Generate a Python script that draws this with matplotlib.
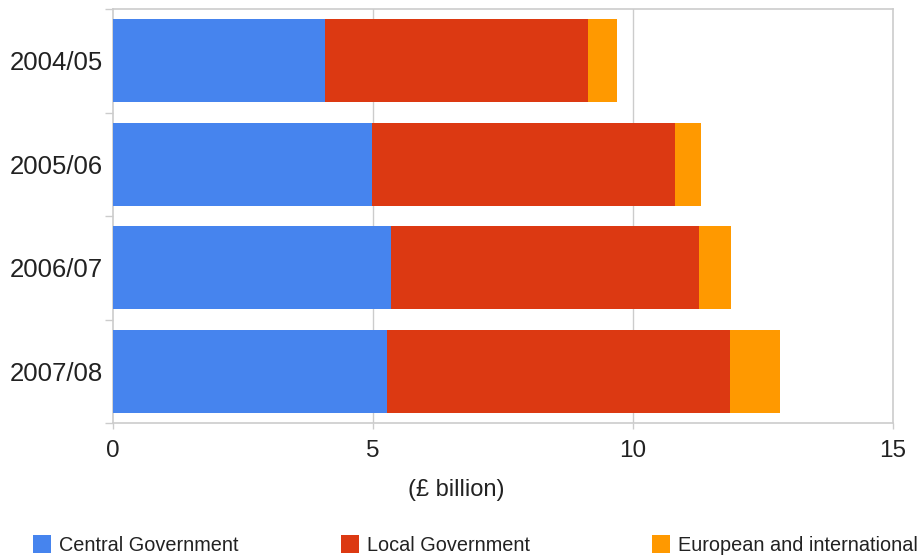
import matplotlib.pyplot as plt
import numpy as np

plt.rcParams['font.family'] = ['Liberation Sans', 'DejaVu Sans']

# data (£ billion)
years = ["2004/05", "2005/06", "2006/07", "2007/08"]
central = [4.08, 4.98, 5.34, 5.27]
local = [5.06, 5.83, 5.93, 6.60]
european = [0.56, 0.50, 0.62, 0.95]
x_ticks = [0, 5, 10, 15]

BLUE = '#4684EE'
RED = '#DC3912'
ORANGE = '#FF9900'
GREY = '#CCCCCC'
TEXT = '#222222'

fig = plt.figure(figsize=(9.19, 5.57), dpi=100)
ax = fig.add_axes([113 / 919, 1 - 423 / 557, 780 / 919, 414 / 557])

y = np.arange(len(years))
central = np.array(central)
local = np.array(local)
european = np.array(european)

b1 = ax.barh(y, central, height=0.8, color=BLUE, zorder=3)
b2 = ax.barh(y, local, left=central, height=0.8, color=RED, zorder=3)
b3 = ax.barh(y, european, left=central + local, height=0.8, color=ORANGE, zorder=3)

ax.set_xlim(0, 15)
ax.set_ylim(len(years) - 0.5, -0.5)

ax.set_xticks(x_ticks)
ax.set_xticklabels([str(t) for t in x_ticks])
ax.set_yticks(y)
ax.set_yticklabels(years)
ax.set_yticks(np.arange(len(years) + 1) - 0.5, minor=True)

ax.tick_params(axis='y', which='major', length=0, pad=7, labelsize=18.5, labelcolor=TEXT)
ax.tick_params(axis='y', which='minor', length=6, color=GREY, width=1)
ax.tick_params(axis='x', which='major', length=4, color=GREY, width=1, pad=8,
               labelsize=17.5, labelcolor=TEXT)

for v in x_ticks[1:-1]:
    ax.axvline(v, color=GREY, linewidth=1, zorder=1)

for s in ax.spines.values():
    s.set_color(GREY)
    s.set_linewidth(1.2)

fig.text(456 / 919, 1 - 490 / 557, '(£ billion)', ha='center', va='center',
         fontsize=17, color=TEXT)

# google-charts style legend: entries are not evenly spaced, so one legend each
entries = [(b1, 'Central Government', 33),
           (b2, 'Local Government', 341),
           (b3, 'European and international', 652)]
for handle, label, px in entries:
    fig.legend([handle], [label], loc='center left',
               bbox_to_anchor=(px / 919, 1 - 545 / 557),
               frameon=False, fontsize=14.3, handlelength=0.9, handleheight=1.0,
               handletextpad=0.4, labelcolor=TEXT, borderaxespad=0, borderpad=0)

plt.savefig('out.png', dpi=100)
